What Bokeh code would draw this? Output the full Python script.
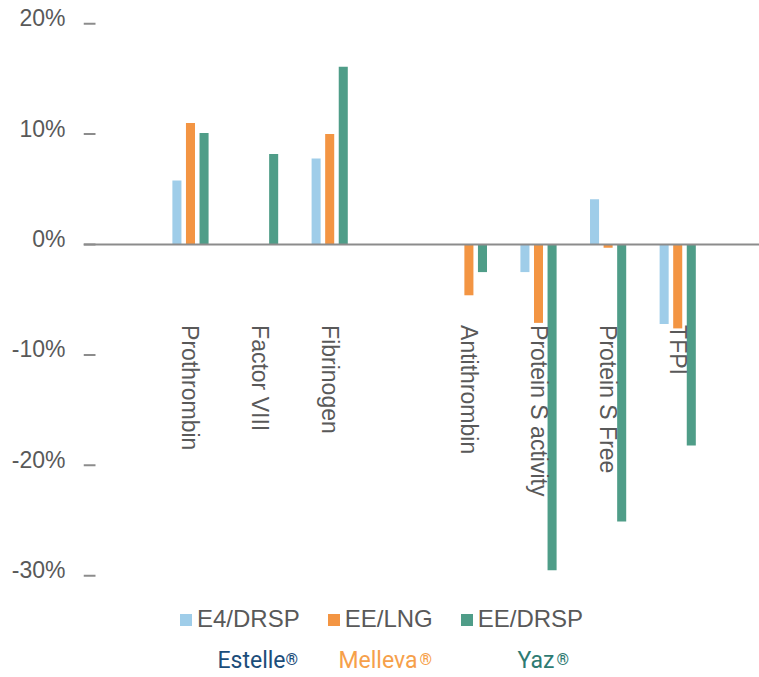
import math
import numpy as np
from bokeh.plotting import figure
from bokeh.models import (ColumnDataSource, Range1d, Span, Legend, LegendItem,
                          FixedTicker, PrintfTickFormatter, Label)
from bokeh.core.properties import value
from bokeh.embed import file_html
from bokeh.resources import INLINE

# ---- data -------------------------------------------------------------
categories = ["Prothrombin", "Factor VIII", "Fibrinogen", "", "Antithrombin",
              "Protein S activity", "Protein S Free", "TFPI"]
series_names = ["E4/DRSP", "EE/LNG", "EE/DRSP"]
e4_drsp = [5.8, 0.0, 7.8, float("nan"), 0.0, -2.5, 4.1, -7.2]
ee_lng = [11.0, 0.0, 10.0, float("nan"), -4.6, -7.1, -0.3, -7.6]
ee_drsp = [10.1, 8.2, 16.1, float("nan"), -2.5, -29.5, -25.1, -18.2]
y_ticks = [-30, -20, -10, 0, 10, 20]
brands = ["Estelle", "Melleva", "Yaz"]

colors = ["#9fcde9", "#f39543", "#4f9d88"]
brand_colors = ["#1b4d7a", "#f6a04a", "#2e7b73"]
grey_text = "#595959"

X0, X1 = -1.537, 8.175
Y0, Y1 = -39.22, 22.10
LABEL_SHIFT = 0.5  # tick labels sit slightly above their tick marks

# ---- figure -----------------------------------------------------------
p = figure(width=759, height=677, output_backend="svg", toolbar_location=None,
           x_range=Range1d(X0, X1), y_range=Range1d(Y0, Y1),
           x_axis_location=None, min_border_left=83, min_border_right=0,
           min_border_top=0, min_border_bottom=0)
p.outline_line_color = None
p.xgrid.grid_line_color = None
p.ygrid.grid_line_color = None
p.background_fill_color = "white"
p.border_fill_color = "white"
p.extra_y_ranges = {"labels": Range1d(Y0 - LABEL_SHIFT, Y1 - LABEL_SHIFT)}

idx = np.arange(len(categories))
offsets = [-0.195, 0.0, 0.195]
renderers = []
for vals, off, col in zip([e4_drsp, ee_lng, ee_drsp], offsets, colors):
    src = ColumnDataSource(dict(x=idx + off, top=vals))
    r = p.vbar(x="x", top="top", bottom=0, width=0.13, source=src,
               fill_color=col, line_color=None)
    renderers.append(r)

zero = Span(location=0, dimension="width", line_color="#8c8c8c", line_width=2)
p.add_layout(zero)

# short tick marks at the left edge of the plot area
p.ray(x=[X0] * len(y_ticks), y=y_ticks, length=12, length_units="screen",
      angle=0, line_color="#8c8c8c", line_width=2)

# y axis labels (on a slightly shifted range)
ax = p.yaxis[0]
ax.y_range_name = "labels"
ax.ticker = FixedTicker(ticks=y_ticks)
ax.formatter = PrintfTickFormatter(format="%d%%")
ax.axis_line_color = None
ax.major_tick_line_color = None
ax.minor_tick_line_color = None
ax.major_tick_in = 0
ax.major_tick_out = 0
ax.major_label_standoff = 18
ax.major_label_text_font = "Liberation Sans"
ax.major_label_text_font_size = "23px"
ax.major_label_text_color = grey_text

# category labels inside plot
lab_src = ColumnDataSource(dict(x=idx, y=np.full(len(categories), -7.3), text=categories))
p.text(x="x", y="y", text="text", source=lab_src, angle=-math.pi / 2,
       text_align="left", text_baseline="middle",
       text_font=value("Liberation Sans"), text_font_size="23px",
       text_color=grey_text)

# legend
legend = Legend(items=[LegendItem(label=n, renderers=[r]) for n, r in zip(series_names, renderers)],
                orientation="horizontal", location=(95, 44),
                glyph_width=15, glyph_height=15, label_standoff=4, spacing=26,
                padding=0, margin=0, border_line_color=None,
                background_fill_alpha=0,
                label_text_font="Liberation Sans", label_text_font_size="24px",
                label_text_color=grey_text)
p.add_layout(legend)

# brand names (screen x measured from the plot frame's left edge)
brand_x = [134, 255, 434]
reg_x = [202, 336, 473]
for name, bx, rx, c in zip(brands, brand_x, reg_x, brand_colors):
    p.add_layout(Label(x=bx, y=4, x_units="screen", y_units="screen", text=name,
                       text_font="Roboto", text_font_size="23px", text_color=c,
                       text_align="left", text_baseline="bottom"))
    p.add_layout(Label(x=rx, y=28, x_units="screen", y_units="screen", text="®",
                       text_font="Roboto", text_font_size="16px", text_color=c,
                       text_font_style="bold",
                       text_align="left", text_baseline="top"))

open("out.html", "w").write(file_html(p, INLINE))
